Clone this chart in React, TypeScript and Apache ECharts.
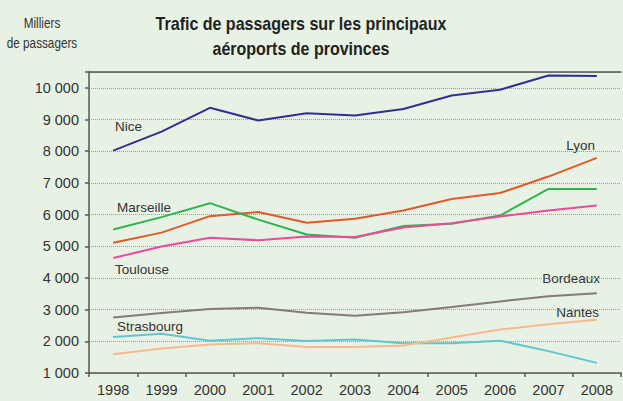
import React, { useEffect, useRef } from "react";
import * as echarts from "echarts";

const years = ["1998", "1999", "2000", "2001", "2002", "2003", "2004", "2005", "2006", "2007", "2008"];
const nice = [8020, 8620, 9370, 8970, 9200, 9130, 9330, 9760, 9940, 10390, 10370];
const lyon = [5110, 5430, 5950, 6080, 5740, 5870, 6130, 6490, 6680, 7200, 7790];
const marseille = [5530, 5920, 6360, 5840, 5370, 5270, 5640, 5710, 5970, 6810, 6810];
const toulouse = [4630, 4990, 5270, 5190, 5310, 5290, 5590, 5730, 5940, 6130, 6290];
const bordeaux = [2750, 2890, 3020, 3060, 2900, 2810, 2920, 3080, 3260, 3420, 3520];
const strasbourg = [2140, 2240, 2020, 2100, 2010, 2060, 1940, 1940, 2020, 1690, 1320];
const nantes = [1590, 1770, 1900, 1940, 1820, 1820, 1870, 2120, 2370, 2540, 2680];

const seriesDefs = [
  { name: "Nice", data: nice, color: "#2e3192" },
  { name: "Lyon", data: lyon, color: "#e05a2a" },
  { name: "Marseille", data: marseille, color: "#2fb34c" },
  { name: "Toulouse", data: toulouse, color: "#ea4b9c" },
  { name: "Bordeaux", data: bordeaux, color: "#867b74" },
  { name: "Strasbourg", data: strasbourg, color: "#5ec6d2" },
  { name: "Nantes", data: nantes, color: "#f9b98c" },
];

const seriesLabels = [
  { text: "Nice", x: 115, y: 126, align: "left" },
  { text: "Marseille", x: 117, y: 207, align: "left" },
  { text: "Lyon", x: 595, y: 145, align: "right" },
  { text: "Toulouse", x: 115, y: 269, align: "left" },
  { text: "Strasbourg", x: 117, y: 326, align: "left" },
  { text: "Bordeaux", x: 600, y: 278, align: "right" },
  { text: "Nantes", x: 599, y: 312, align: "right" },
];

const FONT = "'Liberation Sans', Arial, sans-serif";

function fmt(v: number): string {
  if (v % 1000 !== 0) return "";
  const s = String(v);
  return s.replace(/\B(?=(\d{3})+(?!\d))/g, " ");
}

export default function App() {
  const ref = useRef<HTMLDivElement>(null);
  useEffect(() => {
    if (!ref.current) return;
    const chart = echarts.init(ref.current, undefined, { renderer: "svg" });
    chart.setOption({
      animation: false,
      backgroundColor: "#e7f2e5",
      textStyle: { fontFamily: FONT },
      grid: { left: 89, right: 2, top: 72, bottom: 28 },
      xAxis: [
        {
          type: "category",
          data: years,
          boundaryGap: true,
          axisLine: { lineStyle: { color: "#555", width: 1.5 } },
          axisTick: { show: true, length: 4, lineStyle: { color: "#555", width: 1.5 } },
          axisLabel: { color: "#333", fontSize: 14.5, margin: 9, fontFamily: FONT },
        },
        {
          type: "category",
          data: years,
          position: "top",
          axisLine: { show: true, lineStyle: { color: "#555", width: 1.5 } },
          axisTick: { show: false },
          axisLabel: { show: false },
        },
      ],
      yAxis: {
        type: "value",
        min: 1000,
        max: 10500,
        interval: 1000,
        axisLine: { show: true, lineStyle: { color: "#555", width: 1.5 } },
        axisTick: { show: true, length: 4, lineStyle: { color: "#555", width: 1.5 } },
        axisLabel: { color: "#333", fontSize: 14.5, margin: 10, fontFamily: FONT, formatter: (v: number) => fmt(v) },
        splitLine: { show: true, lineStyle: { color: "#9a9a9a", type: "dotted", width: 1 } },
      },
      series: seriesDefs.map((s) => ({
        name: s.name,
        type: "line",
        data: s.data,
        xAxisIndex: 0,
        showSymbol: false,
        symbol: "none",
        lineStyle: { color: s.color, width: 2 },
        itemStyle: { color: s.color },
      })),
      graphic: [
        {
          type: "text",
          x: 301,
          y: 12,
          scaleX: 0.89,
          style: {
            text: "Trafic de passagers sur les principaux\naéroports de provinces",
            align: "center",
            verticalAlign: "top",
            font: "bold 18px 'Liberation Sans', Arial, sans-serif",
            fill: "#222",
            lineHeight: 25,
          },
        },
        {
          type: "text",
          x: 42,
          y: 13,
          scaleX: 0.84,
          style: {
            text: "Milliers\nde passagers",
            align: "center",
            verticalAlign: "top",
            font: "14px 'Liberation Sans', Arial, sans-serif",
            fill: "#333",
            lineHeight: 20,
          },
        },
        ...seriesLabels.map((l) => ({
          type: "text",
          x: l.x,
          y: l.y,
          style: {
            text: l.text,
            align: l.align,
            verticalAlign: "middle",
            font: "13.5px 'Liberation Sans', Arial, sans-serif",
            fill: "#333",
          },
        })),
      ],
    });
    return () => chart.dispose();
  }, []);
  return <div ref={ref} style={{ width: 623, height: 401, position: "absolute", left: 0, top: 0 }} />;
}
